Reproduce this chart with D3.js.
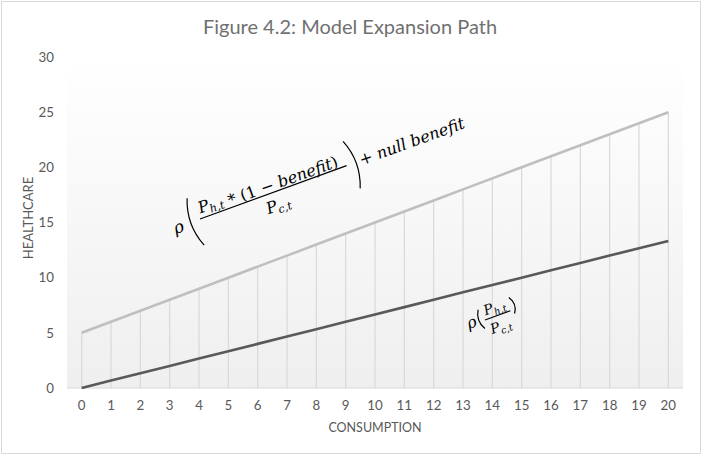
<!doctype html>
<html lang="en">
<head>
    <meta charset="utf-8">
    <title>Figure 4.2: Model Expansion Path</title>
    <script src="https://cdn.jsdelivr.net/npm/d3@7/dist/d3.min.js"></script>
    <style>
        body { margin: 0; background: #fff; }
        svg text { font-family: Lato, "Open Sans", sans-serif; fill: #595959; }
        svg text.math { font-family: "DejaVu Serif", serif; font-style: italic; fill: #000; }
        svg text.math .up { font-style: normal; }
    </style>
</head>
<body>
<svg id="chart" width="703" height="456"></svg>
<script>
    // chart data
    var categories = [0, 1, 2, 3, 4, 5, 6, 7, 8, 9, 10, 11, 12, 13, 14, 15, 16, 17, 18, 19, 20];
    var upperPath = [5, 6, 7, 8, 9, 10, 11, 12, 13, 14, 15, 16, 17, 18, 19, 20, 21, 22, 23, 24, 25];
    var lowerPath = [0, 0.67, 1.33, 2, 2.67, 3.33, 4, 4.67, 5.33, 6, 6.67, 7.33, 8, 8.67, 9.33, 10,
        10.67, 11.33, 12, 12.67, 13.33];
    var yTicks = [0, 5, 10, 15, 20, 25, 30];

    var svg = d3.select("#chart");
    var plot = { left: 67, right: 683, top: 57, bottom: 388 };

    // chart border
    svg.append("rect")
        .attr("x", 1.5).attr("y", 1.5)
        .attr("width", 699).attr("height", 452)
        .attr("fill", "#fff")
        .attr("stroke", "#d9d9d9");

    var grad = svg.append("defs").append("linearGradient")
        .attr("id", "plotfill").attr("x1", 0).attr("y1", 0).attr("x2", 0).attr("y2", 1);
    grad.append("stop").attr("offset", "0%").attr("stop-color", "#ffffff");
    grad.append("stop").attr("offset", "100%").attr("stop-color", "#efefef");

    var x = d3.scaleBand().domain(categories).range([plot.left, plot.right]);
    var cx = function (d) { return x(d) + x.bandwidth() / 2; };
    var y = d3.scaleLinear().domain([0, 30]).range([plot.bottom, plot.top]);

    svg.append("rect")
        .attr("x", plot.left).attr("y", y(30))
        .attr("width", plot.right - plot.left).attr("height", y(0) - y(30))
        .attr("fill", "url(#plotfill)");

    // title
    svg.append("text")
        .attr("x", 350).attr("y", 34)
        .attr("text-anchor", "middle")
        .style("font-size", "20px")
        .style("fill", "#707070")
        .text("Figure 4.2: Model Expansion Path");

    // zero line
    svg.append("line")
        .attr("x1", plot.left).attr("x2", plot.right)
        .attr("y1", y(0)).attr("y2", y(0))
        .attr("stroke", "#d9d9d9");

    // drop lines
    svg.append("g").selectAll("line")
        .data(categories)
        .enter().append("line")
        .attr("x1", function (d) { return cx(d); })
        .attr("x2", function (d) { return cx(d); })
        .attr("y1", function (d, i) { return y(upperPath[i]); })
        .attr("y2", y(0))
        .attr("stroke", "#d9d9d9")
        .attr("stroke-width", 1.2);

    var line = function (vals) {
        return d3.line()
            .x(function (d, i) { return cx(categories[i]); })
            .y(function (d) { return y(d); })(vals);
    };

    svg.append("path").attr("d", line(upperPath))
        .attr("fill", "none").attr("stroke", "#bfbfbf").attr("stroke-width", 2.6);
    svg.append("path").attr("d", line(lowerPath))
        .attr("fill", "none").attr("stroke", "#595959").attr("stroke-width", 2.6);

    // axes
    var xAxis = svg.append("g")
        .attr("transform", "translate(0," + y(0) + ")")
        .call(d3.axisBottom(x).tickSize(0).tickPadding(13));
    xAxis.select(".domain").remove();
    xAxis.selectAll("text").style("font-size", "13.3px").attr("fill", "#595959");

    var yAxis = svg.append("g")
        .attr("transform", "translate(" + 54 + ",0)")
        .call(d3.axisLeft(y).tickValues(yTicks).tickSize(0).tickPadding(0));
    yAxis.select(".domain").remove();
    yAxis.selectAll("text").style("font-size", "13.3px").attr("fill", "#595959");

    svg.append("text")
        .attr("x", 375).attr("y", 432)
        .attr("text-anchor", "middle")
        .style("font-size", "12.5px")
        .text("CONSUMPTION");

    svg.append("text")
        .attr("transform", "translate(33,218) rotate(-90)")
        .attr("text-anchor", "middle")
        .style("font-size", "13px")
        .text("HEALTHCARE");

    // formula annotations
    function paren(g, px, top, bottom, dir, bend) {
        var mid = (top + bottom) / 2;
        g.append("path")
            .attr("d", "M" + px + "," + top + " Q" + (px - dir * bend) + "," + mid + " " + px + "," + bottom)
            .attr("fill", "none").attr("stroke", "#000").attr("stroke-width", 1.2);
    }

    function pSub(t, sub, size) {
        t.append("tspan").text("P");
        t.append("tspan").attr("dy", 3).style("font-size", size + "px").text(sub);
        t.append("tspan").attr("dy", -3).text("");
    }

    var fUp = svg.append("g").attr("transform", "translate(200,219) rotate(-20)");
    fUp.append("text").attr("class", "math").attr("x", -28).attr("y", 6)
        .style("font-size", "17px").text("ρ");
    paren(fUp, -5, -24, 26, 1, 10);
    var num = fUp.append("text").attr("class", "math").attr("x", 2).attr("y", -5)
        .style("font-size", "16px");
    pSub(num, "h,t", 11);
    num.append("tspan").attr("class", "up").text(" * (1 − ");
    num.append("tspan").text("benefit");
    num.append("tspan").attr("class", "up").text(")");
    fUp.append("line").attr("x1", 0).attr("x2", 156).attr("y1", 0).attr("y2", 0)
        .attr("stroke", "#000").attr("stroke-width", 1.2);
    var den = fUp.append("text").attr("class", "math").attr("x", 66).attr("y", 19)
        .style("font-size", "16px");
    pSub(den, "c,t", 11);
    paren(fUp, 161, -24, 26, -1, 10);
    fUp.append("text").attr("class", "math").attr("x", 170).attr("y", 5)
        .style("font-size", "16px").text("+ null benefit");

    var fLow = svg.append("g").attr("transform", "translate(485,320) rotate(-20)");
    fLow.append("text").attr("class", "math").attr("x", -18).attr("y", 3)
        .style("font-size", "16px").text("ρ");
    paren(fLow, -3, -12, 8, 1, 6);
    var n2 = fLow.append("text").attr("class", "math").attr("x", 2).attr("y", -4)
        .style("font-size", "14px");
    pSub(n2, "h,t", 9.5);
    fLow.append("line").attr("x1", 0).attr("x2", 27).attr("y1", 0).attr("y2", 0)
        .attr("stroke", "#000").attr("stroke-width", 1.1);
    var d2 = fLow.append("text").attr("class", "math").attr("x", 2).attr("y", 16)
        .style("font-size", "14px");
    pSub(d2, "c,t", 9.5);
    paren(fLow, 30, -13, 4, -1, 6);
</script>
</body>
</html>
